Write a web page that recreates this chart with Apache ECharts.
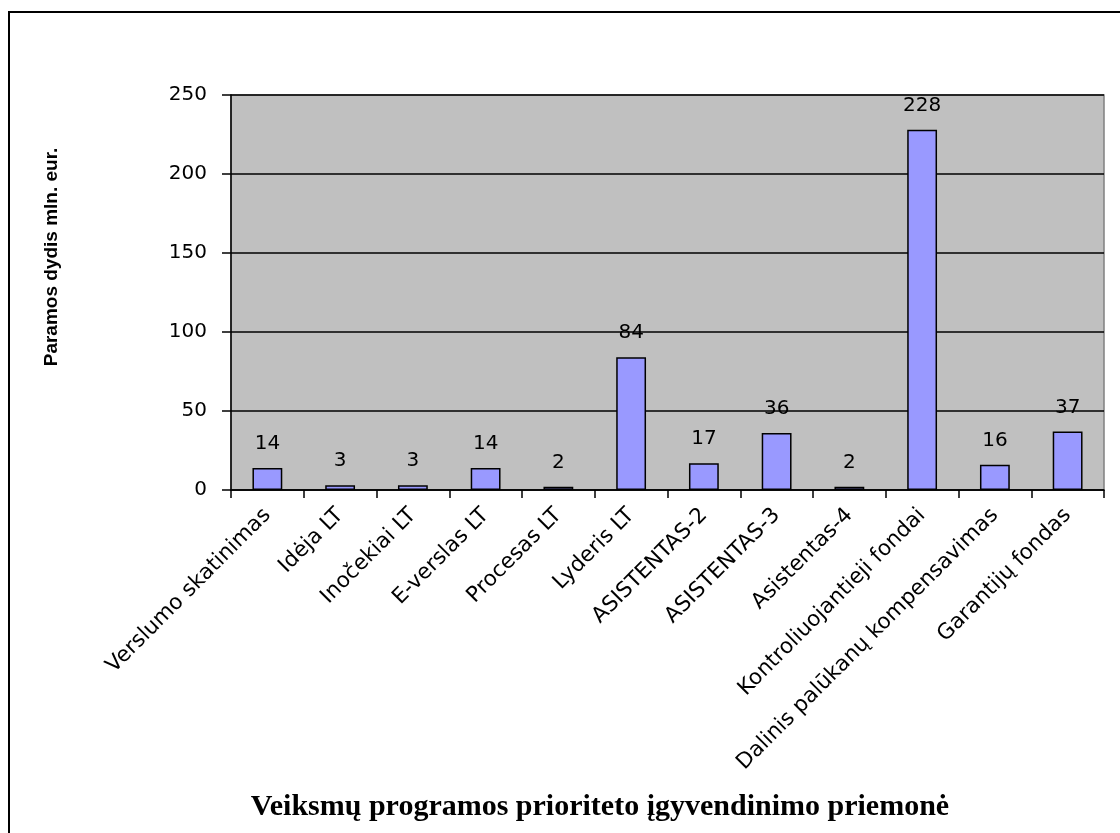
<!DOCTYPE html>
<html>
<head>
<meta charset="utf-8">
<script src="https://cdn.jsdelivr.net/npm/echarts@6/dist/echarts.min.js"></script>
<style>
  html, body { margin: 0; padding: 0; background: #fff; }
  #chart { width: 1120px; height: 833px; }
</style>
</head>
<body>
<div id="chart"></div>
<script>
// priemonės (categories)
var categories = [
  "Verslumo skatinimas", "Idėja LT", "Inočekiai LT", "E-verslas LT",
  "Procesas LT", "Lyderis LT", "ASISTENTAS-2", "ASISTENTAS-3",
  "Asistentas-4", "Kontroliuojantieji fondai",
  "Dalinis palūkanų kompensavimas", "Garantijų fondas"
];
// paramos dydis, mln. eur.
var values = [14, 3, 3, 14, 2, 84, 17, 36, 2, 228, 16, 37];

var yMin = 0, yMax = 250, yStep = 50;
var xTitle = "Veiksmų programos prioriteto įgyvendinimo priemonė";
var yTitle = "Paramos dydis mln. eur.";

var sans = "DejaVu Sans, Arial, sans-serif";

var chart = echarts.init(document.getElementById("chart"));
chart.setOption({
  animation: false,
  graphic: [
    {
      // chart frame (runs off the bottom/right of the picture)
      type: "rect",
      shape: { x: 9, y: 12, width: 1300, height: 1000 },
      style: { fill: "none", stroke: "#000", lineWidth: 2 },
      z: 100
    },
    {
      type: "text",
      x: 52, y: 257,
      rotation: Math.PI / 2,
      style: {
        text: yTitle,
        align: "center",
        verticalAlign: "middle",
        fontFamily: "Liberation Sans, Arial, sans-serif",
        fontWeight: "bold",
        fontSize: 19,
        fill: "#000"
      }
    },
    {
      type: "text",
      x: 600, y: 807,
      style: {
        text: xTitle,
        align: "center",
        verticalAlign: "middle",
        fontFamily: "Liberation Serif, Times New Roman, serif",
        fontWeight: "bold",
        fontSize: 30,
        fill: "#000"
      }
    }
  ],
  grid: {
    left: 231,
    top: 95,
    right: 16,
    bottom: 343,
    outerBoundsMode: "none",
    containLabel: false,
    show: true,
    backgroundColor: "#C0C0C0",
    borderColor: "#808080",
    borderWidth: 1.5
  },
  xAxis: {
    type: "category",
    data: categories,
    axisLine: { lineStyle: { color: "#000", width: 1.5 } },
    axisTick: { show: true, length: 8, lineStyle: { color: "#000", width: 1.5 } },
    axisLabel: {
      interval: 0,
      rotate: 45,
      margin: 22,
      fontFamily: sans,
      fontSize: 21.5,
      color: "#000"
    }
  },
  yAxis: {
    type: "value",
    min: yMin,
    max: yMax,
    interval: yStep,
    axisLine: { show: true, lineStyle: { color: "#000", width: 1.5 } },
    axisTick: { show: true, length: 9, lineStyle: { color: "#000", width: 1.5 } },
    axisLabel: {
      margin: 24,
      fontFamily: sans,
      fontSize: 20,
      color: "#000"
    },
    splitLine: { show: true, lineStyle: { color: "#000", width: 1.5 } }
  },
  series: [
    {
      type: "bar",
      data: values,
      barWidth: "41%",
      itemStyle: {
        color: "#9999FF",
        borderColor: "#000",
        borderWidth: 1.5
      },
      label: {
        show: true,
        position: "top",
        distance: 14,
        fontFamily: sans,
        fontSize: 20,
        color: "#000"
      }
    }
  ]
});
</script>
</body>
</html>
